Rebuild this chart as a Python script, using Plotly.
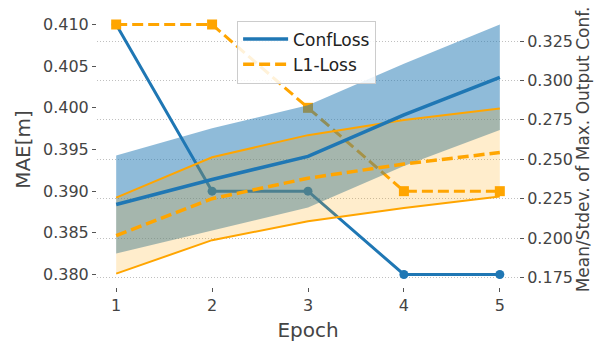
import plotly.graph_objects as go

epochs = [1, 2, 3, 4, 5]
mae_confloss = [0.410, 0.390, 0.390, 0.380, 0.380]
mae_l1 = [0.410, 0.410, 0.400, 0.390, 0.390]
conf_mean_confloss = [0.2213, 0.2372, 0.2518, 0.2782, 0.3020]
conf_std_confloss = [0.0311, 0.0324, 0.0324, 0.0324, 0.0335]
conf_mean_l1 = [0.2016, 0.2250, 0.2380, 0.2470, 0.2543]
conf_std_l1 = [0.0241, 0.0263, 0.0273, 0.0279, 0.0279]
left_ticks = [0.380, 0.385, 0.390, 0.395, 0.400, 0.405, 0.410]
right_ticks = [0.175, 0.200, 0.225, 0.250, 0.275, 0.300, 0.325]

BLUE = "#1f77b4"
ORANGE = "#ffa500"
TXT = "#444444"
FONT = "DejaVu Sans"

fig = go.Figure()

# MAE (left axis)
fig.add_trace(go.Scatter(x=epochs, y=mae_confloss, mode="lines+markers", name="ConfLoss",
                         line=dict(color=BLUE, width=3), marker=dict(size=9, color=BLUE, symbol="circle"),
                         yaxis="y", showlegend=False))
fig.add_trace(go.Scatter(x=epochs, y=mae_l1, mode="lines+markers", name="L1-Loss",
                         line=dict(color=ORANGE, width=3, dash="11px,5px"),
                         marker=dict(size=10, color=ORANGE, symbol="square"),
                         yaxis="y", showlegend=False))

# Confidence bands (right axis)
cb_lo = [m - s for m, s in zip(conf_mean_confloss, conf_std_confloss)]
cb_hi = [m + s for m, s in zip(conf_mean_confloss, conf_std_confloss)]
ol_lo = [m - s for m, s in zip(conf_mean_l1, conf_std_l1)]
ol_hi = [m + s for m, s in zip(conf_mean_l1, conf_std_l1)]

fig.add_trace(go.Scatter(x=epochs, y=cb_lo, mode="lines", line=dict(width=0, color=BLUE),
                         yaxis="y2", showlegend=False))
fig.add_trace(go.Scatter(x=epochs, y=cb_hi, mode="lines", line=dict(width=0, color=BLUE),
                         fill="tonexty", fillcolor="rgba(31,119,180,0.5)", yaxis="y2", showlegend=False))
fig.add_trace(go.Scatter(x=epochs, y=ol_lo, mode="lines", line=dict(width=2, color=ORANGE),
                         yaxis="y2", showlegend=False))
fig.add_trace(go.Scatter(x=epochs, y=ol_hi, mode="lines", line=dict(width=2, color=ORANGE),
                         fill="tonexty", fillcolor="rgba(255,165,0,0.2)", yaxis="y2", showlegend=False))
fig.add_trace(go.Scatter(x=epochs, y=conf_mean_confloss, mode="lines", name="ConfLoss",
                         line=dict(width=3.5, color=BLUE), yaxis="y2", showlegend=True))
fig.add_trace(go.Scatter(x=epochs, y=conf_mean_l1, mode="lines", name="L1-Loss",
                         line=dict(width=3.5, color=ORANGE, dash="11px,5px"), yaxis="y2", showlegend=True))

fig.update_layout(
    width=608, height=343,
    margin=dict(l=97, r=89, t=12, b=56, pad=0),
    plot_bgcolor="white", paper_bgcolor="white",
    font=dict(family=FONT, color=TXT, size=16),
    hovermode=False,
    xaxis=dict(range=[0.8, 5.2], tickvals=epochs, ticks="outside", ticklen=4, tickcolor="#555",
               showgrid=False, zeroline=False, showline=False, automargin=False,
               tickfont=dict(size=16, color=TXT),
               title=dict(text="Epoch", font=dict(size=20, color=TXT), standoff=8)),
    yaxis=dict(range=[0.3785, 0.4115], tickvals=left_ticks, tickformat=".3f", ticks="outside",
               ticklen=4, tickcolor="#555", showgrid=False, zeroline=False, showline=False,
               automargin=False,
               tickfont=dict(size=16, color=TXT),
               title=dict(text="MAE[m]", font=dict(size=20, color=TXT), standoff=6)),
    yaxis2=dict(range=[0.1690, 0.3434], tickvals=right_ticks, tickformat=".3f", ticks="outside",
                ticklen=4, tickcolor="#555", overlaying="y", side="right",
                showgrid=True, gridcolor="#c0c0c0", griddash="1px,2px", gridwidth=1,
                zeroline=False, showline=False, automargin=False,
                tickfont=dict(size=16, color=TXT),
                title=dict(text="Mean/Stdev. of Max. Output Conf.", font=dict(size=17, color=TXT), standoff=1)),
    legend=dict(x=0.332, y=0.969, xanchor="left", yanchor="top", traceorder="normal",
                bgcolor="rgba(255,255,255,0.85)", bordercolor="#cccccc", borderwidth=1,
                font=dict(size=17, color="#222222"), tracegroupgap=4, itemwidth=45),
    showlegend=True,
)

fig.write_html("out.html", config={"displayModeBar": False},
               post_script="document.body.style.margin='0';document.body.style.overflow='hidden';")
